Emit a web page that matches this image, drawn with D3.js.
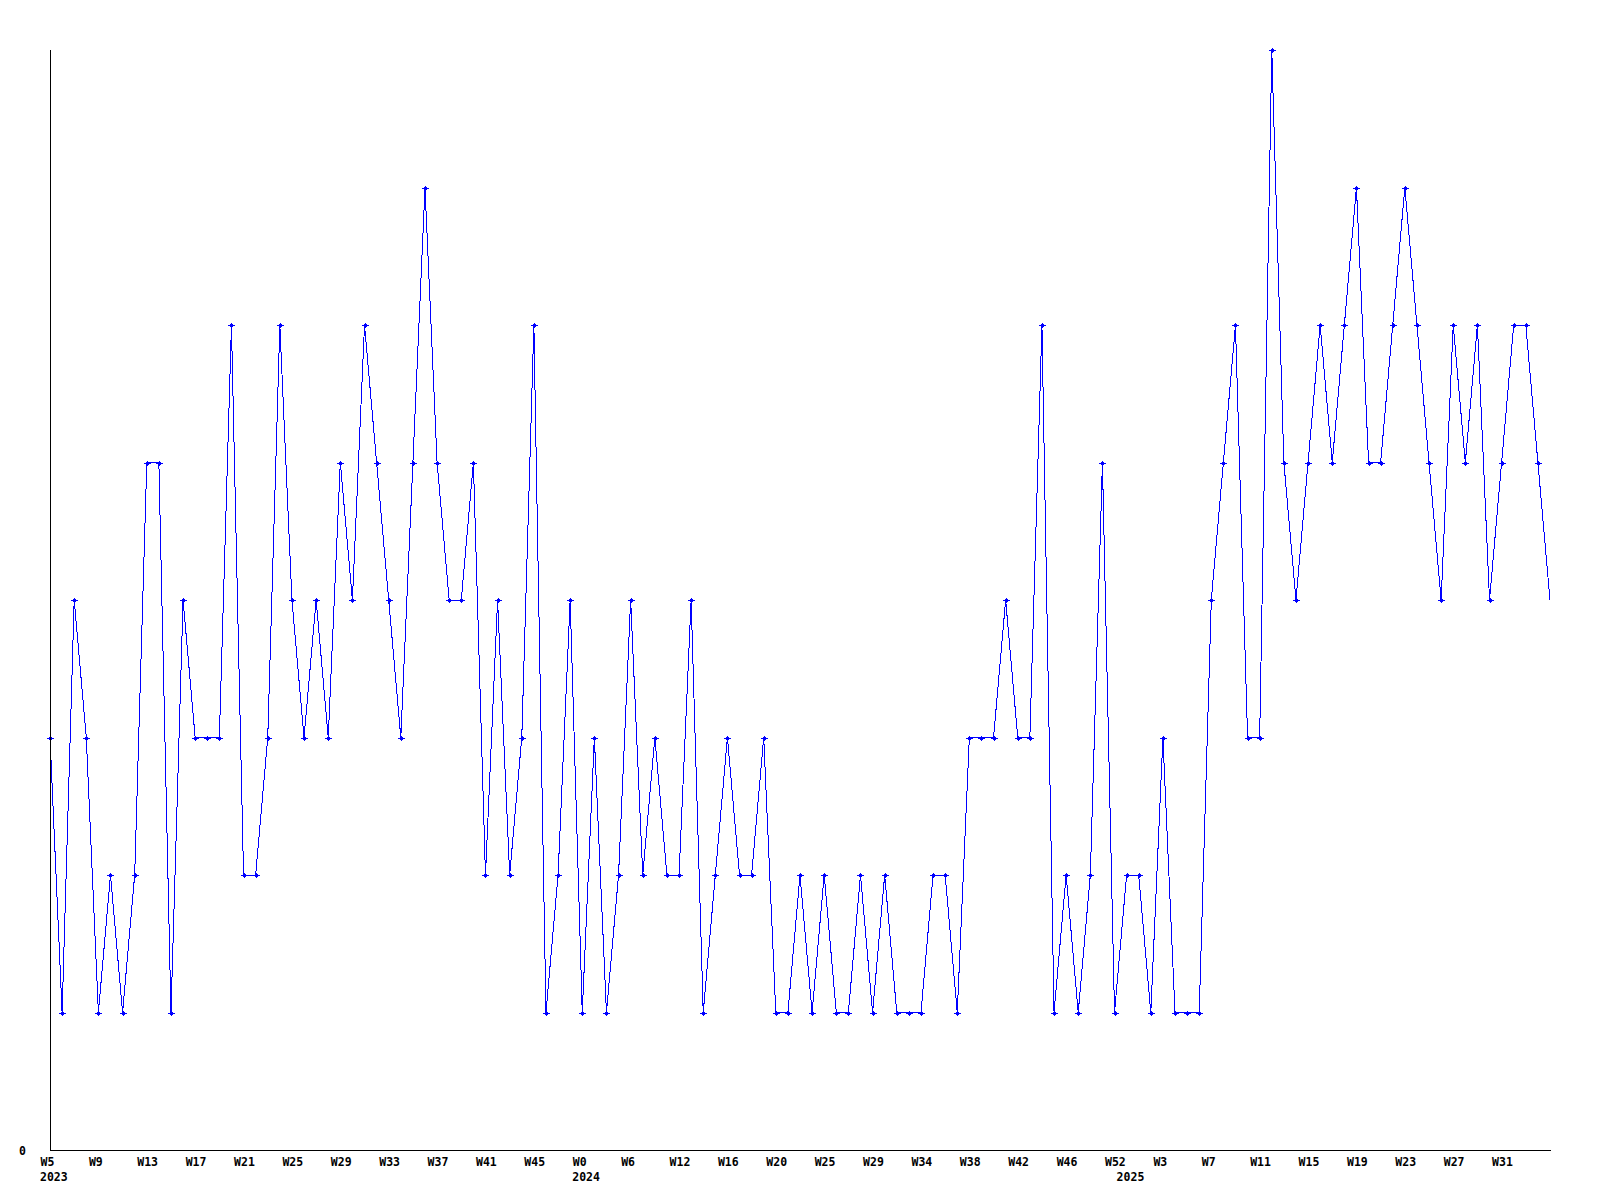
<!DOCTYPE html>
<html>
<head>
<meta charset="utf-8">
<script src="https://cdn.jsdelivr.net/npm/d3@7"></script>
<style>
  html, body { margin: 0; padding: 0; background: #ffffff; }
  svg { display: block; }
  .lbl { font-family: "DejaVu Sans Mono", "Liberation Mono", monospace; font-weight: bold; font-size: 11.5px; fill: #000; }
</style>
</head>
<body>
<div id="chart"></div>
<script>
// ---- data ----
const values = [
  3,1,4,3,1,2,1,2,5,5, 1,4,3,3,3,6,2,2,3,6,
  4,3,4,3,5,4,6,5,4,3, 5,7,5,4,4,5,2,4,2,3,
  6,1,2,4,1,3,1,2,4,2, 3,2,2,4,1,2,3,2,2,3,
  1,1,2,1,2,1,1,2,1,2, 1,1,1,2,2,1,3,3,3,4,
  3,3,6,1,2,1,2,5,1,2, 2,1,3,1,1,1,4,5,6,3,
  3,8,5,4,5,6,5,6,7,5, 5,6,7,6,5,4,6,5,6,4,
  5,6,6,5,4
];
const weekLabels = ["W5","W9","W13","W17","W21","W25","W29","W33","W37","W41","W45",
  "W0","W6","W12","W16","W20","W25","W29","W34","W38","W42","W46","W52",
  "W3","W7","W11","W15","W19","W23","W27","W31"];
const weekLabelIndex = weekLabels.map((d, k) => 4 * k);
const yearLabels = ["2023","2024","2025"];
const yearLabelIndex = [0, 44, 89];
const yTickValues = [0];

// ---- layout ----
const W = 1600, H = 1200;
const x0 = 50, x1 = 1550, yTop = 50, yBot = 1150;

const svg = d3.select("#chart").append("svg")
  .attr("width", W).attr("height", H)
  .attr("viewBox", `0 0 ${W} ${H}`);
svg.append("rect").attr("width", W).attr("height", H).attr("fill", "#fff");

const x = d3.scaleLinear().domain([0, values.length - 1]).range([x0, x1]);
const y = d3.scaleLinear().domain([0, 8]).range([yBot, yTop]);

// line
const line = d3.line().x((d, i) => x(i)).y(d => y(d));
svg.append("path")
  .datum(values)
  .attr("d", line)
  .attr("fill", "none")
  .attr("stroke", "#0000ff")
  .attr("stroke-width", 1)
  .attr("shape-rendering", "crispEdges");

// markers (all but the last point): small pixel diamond/plus
const marks = svg.append("g").attr("fill", "#0000ff").attr("shape-rendering", "crispEdges");
values.slice(0, values.length - 1).forEach((v, i) => {
  const cx = Math.round(x(i)), cy = Math.round(y(v));
  marks.append("rect").attr("x", cx - 3).attr("y", cy).attr("width", 7).attr("height", 1);
  marks.append("rect").attr("x", cx - 1).attr("y", cy - 1).attr("width", 3).attr("height", 3);
  marks.append("rect").attr("x", cx).attr("y", cy - 2).attr("width", 1).attr("height", 5);
});

// x axis
const xAxis = d3.axisBottom(x)
  .tickValues(weekLabelIndex)
  .tickSize(0)
  .tickPadding(0)
  .tickFormat((d, k) => weekLabels[k]);
const gx = svg.append("g")
  .attr("transform", `translate(0,${yBot})`)
  .call(xAxis);
gx.select(".domain").attr("stroke", "#000").attr("shape-rendering", "crispEdges").attr("d", `M${x0},0.5H${x1 + 1}`);
gx.selectAll(".tick text")
  .attr("class", "lbl")
  .attr("text-anchor", "start")
  .attr("x", -10)
  .attr("y", 16)
  .attr("dy", null);

// year labels
svg.append("g").selectAll("text")
  .data(yearLabels)
  .join("text")
  .attr("class", "lbl")
  .attr("text-anchor", "start")
  .attr("x", (d, k) => x(yearLabelIndex[k]) - 10)
  .attr("y", yBot + 31)
  .text(d => d);

// y axis
const yAxis = d3.axisLeft(y).tickValues(yTickValues).tickSize(0).tickPadding(24).tickFormat(d3.format("d"));
const gy = svg.append("g")
  .attr("transform", `translate(${x0},0)`)
  .call(yAxis);
gy.select(".domain").attr("stroke", "#000").attr("shape-rendering", "crispEdges").attr("d", `M0.5,${yTop}V${yBot}`);
gy.selectAll(".tick text")
  .attr("class", "lbl")
  .attr("text-anchor", "end")
  .attr("dy", "0.35em");
</script>
</body>
</html>
